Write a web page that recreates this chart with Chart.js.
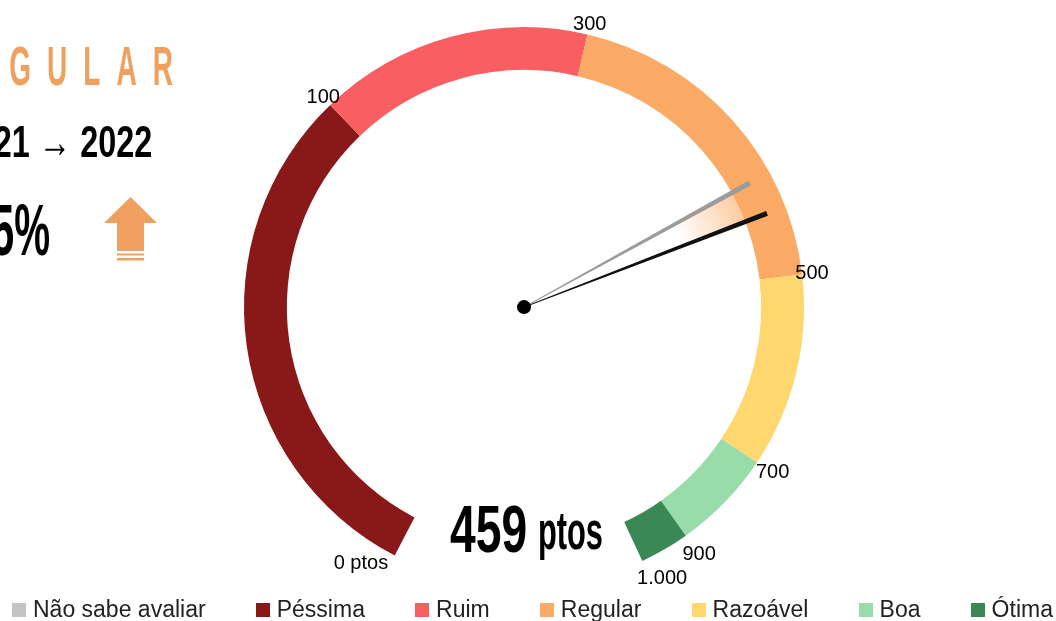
<!DOCTYPE html>
<html lang="pt">
<head>
<meta charset="UTF-8">
<title>Avaliação - Gauge</title>
<script src="https://cdn.jsdelivr.net/npm/chart.js"></script>
<style>
    body {
        margin: 0;
        background: #fff;
    }
    .page {
        position: relative;
        width: 1056px;
        height: 621px;
        overflow: hidden;
        font-family: 'Liberation Sans', Arial, sans-serif;
    }
    #gauge {
        position: absolute;
        left: 0;
        top: 0;
    }
    .big {
        position: absolute;
        line-height: 1;
        white-space: nowrap;
    }
    #status {
        font-size: 56px;
        font-weight: bold;
        color: #F0A05E;
        letter-spacing: 32px;
        right: 867px;
        top: 38px;
        transform: scaleX(0.5);
        transform-origin: right top;
    }
    #years {
        font-size: 45px;
        font-weight: bold;
        color: #000;
        right: 904px;
        top: 119px;
        transform: scaleX(0.72);
        transform-origin: right top;
    }
    #years .arr {
        font-weight: normal;
    }
    #change {
        font-size: 72px;
        font-weight: bold;
        color: #000;
        right: 1006px;
        top: 194px;
        transform: scaleX(0.56);
        transform-origin: right top;
    }
    #scoreNum {
        font-size: 66px;
        font-weight: bold;
        left: 450px;
        top: 496px;
        transform: scaleX(0.7);
        transform-origin: left top;
    }
    #scoreUnit {
        font-size: 54px;
        font-weight: bold;
        left: 538px;
        top: 503px;
        transform: scaleX(0.57);
        transform-origin: left top;
    }
    #upArrow {
        position: absolute;
        left: 104px;
        top: 197px;
    }
    #legend {
        position: absolute;
        left: 12px;
        width: 1041px;
        top: 596px;
        display: flex;
        justify-content: space-between;
        align-items: center;
        font-size: 23px;
        color: #222;
    }
    .item {
        display: flex;
        align-items: center;
        white-space: nowrap;
    }
    .box {
        width: 14px;
        height: 14px;
        margin-right: 7px;
    }
</style>
</head>
<body>
<div class="page">
    <canvas id="gauge" width="1056" height="621"></canvas>
    <div class="big" id="status"></div>
    <div class="big" id="years"></div>
    <div class="big" id="change"></div>
    <svg id="upArrow" width="54" height="66" viewBox="0 0 54 66">
        <polygon points="0,26 26.5,0 53,26 40,26 40,54 13,54 13,26" fill="#F0A05E"/>
        <rect x="13" y="56.5" width="27" height="2" fill="#F0A05E"/>
        <rect x="13" y="61" width="27" height="2.5" fill="#F0A05E"/>
    </svg>
    <div class="big" id="scoreNum"></div>
    <div class="big" id="scoreUnit">ptos</div>
    <div id="legend"></div>
</div>

<script>
    // categories (first one has no share of the ring)
    var categories = ['Não sabe avaliar', 'Péssima', 'Ruim', 'Regular', 'Razoável', 'Boa', 'Ótima'];
    // angular size of each band on the ring, degrees
    var bandArcDeg = [0, 108.7, 56.9, 70.2, 40.4, 21.0, 10.3];
    var bandColors = ['#C4C4C4', '#891818', '#F85E62', '#FBAA65', '#FFD76F', '#98DCAA', '#3A8955'];
    // score limits at the band edges and their labels
    var thresholds = [0, 100, 300, 500, 700, 900, 1000];
    var tickLabels = ['0 ptos', '100', '300', '500', '700', '900', '1.000'];
    // yearly scores
    var years = ['2021', '2022'];
    var scores = [437, 459];

    var startDeg = -152.5;
    var totalDeg = bandArcDeg.reduce(function (a, b) { return a + b; }, 0);

    var current = scores[scores.length - 1];
    var previous = scores[0];

    function bandOf(v) {
        for (var i = 0; i < thresholds.length - 1; i++) {
            if (v >= thresholds[i] && v < thresholds[i + 1]) return i;
        }
        return thresholds.length - 2;
    }

    document.getElementById('status').textContent = categories[bandOf(current) + 1].toUpperCase();
    document.getElementById('years').innerHTML = years[0] + ' <span class="arr">\u2192</span> ' + years[1];
    document.getElementById('change').textContent = Math.round((current - previous) / previous * 100) + '%';
    document.getElementById('scoreNum').textContent = current;

    var gaugeDecor = {
        id: 'gaugeDecor',
        afterDatasetsDraw: function (chart) {
            var ctx = chart.ctx;
            var arcs = chart.getDatasetMeta(0).data;
            var cx = arcs[1].x, cy = arcs[1].y;
            var outer = arcs[1].outerRadius, inner = arcs[1].innerRadius;

            var bounds = [];
            for (var i = 1; i < arcs.length; i++) bounds.push(arcs[i].startAngle);
            bounds.push(arcs[arcs.length - 1].endAngle);

            function angleFor(v) {
                var b = bandOf(v);
                var f = (v - thresholds[b]) / (thresholds[b + 1] - thresholds[b]);
                return bounds[b] + f * (bounds[b + 1] - bounds[b]);
            }

            ctx.save();

            // edge labels, the two ends pulled a little into the ring
            ctx.font = '20px "Liberation Sans", Arial, sans-serif';
            ctx.fillStyle = '#000';
            ctx.textAlign = 'center';
            ctx.textBaseline = 'middle';
            var nudge = Math.PI / 180;
            bounds.forEach(function (a, k) {
                if (k === 0) a += 5 * nudge;
                if (k === bounds.length - 1) a -= 2 * nudge;
                var r = outer + 10 + 16 * Math.max(0, Math.sin(a));
                ctx.fillText(tickLabels[k], cx + r * Math.cos(a), cy + r * Math.sin(a));
            });

            // soft wedge between the two needles
            var a0 = angleFor(previous), a1 = angleFor(current);
            var g = ctx.createRadialGradient(cx, cy, 170, cx, cy, inner);
            g.addColorStop(0, 'rgba(251,170,101,0)');
            g.addColorStop(1, 'rgba(251,170,101,0.6)');
            ctx.fillStyle = g;
            ctx.beginPath();
            ctx.arc(cx, cy, inner, a0, a1);
            ctx.arc(cx, cy, 170, a1, a0, true);
            ctx.closePath();
            ctx.fill();

            function needle(v, color, len) {
                var a = angleFor(v);
                var nx = -Math.sin(a), ny = Math.cos(a);
                var tx = cx + len * Math.cos(a), ty = cy + len * Math.sin(a);
                ctx.fillStyle = color;
                ctx.beginPath();
                ctx.moveTo(cx + nx * 0.4, cy + ny * 0.4);
                ctx.lineTo(tx + nx * 2.6, ty + ny * 2.6);
                ctx.lineTo(tx - nx * 2.6, ty - ny * 2.6);
                ctx.lineTo(cx - nx * 0.4, cy - ny * 0.4);
                ctx.closePath();
                ctx.fill();
            }
            needle(previous, '#9B9B9B', outer * 0.92);
            needle(current, '#111', outer * 0.93);

            ctx.fillStyle = '#000';
            ctx.beginPath();
            ctx.arc(cx, cy, 7, 0, Math.PI * 2);
            ctx.fill();
            ctx.restore();
        }
    };

    var gaugeChart = new Chart(document.getElementById('gauge').getContext('2d'), {
        type: 'doughnut',
        data: {
            labels: categories,
            datasets: [{
                data: bandArcDeg,
                backgroundColor: bandColors,
                borderWidth: 0
            }]
        },
        options: {
            responsive: false,
            animation: false,
            rotation: startDeg,
            circumference: totalDeg,
            radius: 280,
            cutout: '84.7%',
            layout: {
                padding: { left: 0, right: 8, top: 0, bottom: 33 }
            },
            plugins: {
                legend: { display: false },
                tooltip: { enabled: false }
            }
        },
        plugins: [gaugeDecor]
    });

    // legend built from the chart's own legend items
    var legendEl = document.getElementById('legend');
    Chart.overrides.doughnut.plugins.legend.labels.generateLabels(gaugeChart).forEach(function (it) {
        var item = document.createElement('div');
        item.className = 'item';
        var box = document.createElement('span');
        box.className = 'box';
        box.style.background = it.fillStyle;
        var txt = document.createElement('span');
        txt.textContent = it.text;
        item.appendChild(box);
        item.appendChild(txt);
        legendEl.appendChild(item);
    });
</script>
</body>
</html>
